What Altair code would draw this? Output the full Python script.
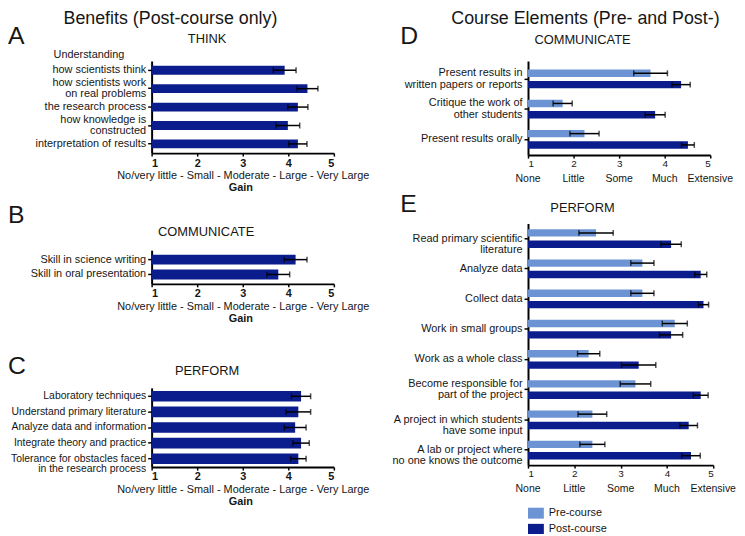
import altair as alt
import pandas as pd

FONT = "Liberation Sans"
TXT = "#161616"
DARK = "#0b1d8c"
LIGHT = "#6c94d4"

# ---------------- data ----------------
think_items = ["how scientists think", "how scientists work|on real problems",
               "the research process", "how knowledge is|constructed",
               "interpretation of results"]
think_vals = [3.92, 4.42, 4.21, 3.99, 4.21]
think_err = [0.25, 0.23, 0.22, 0.26, 0.20]

comm_items = ["Skill in science writing", "Skill in oral presentation"]
comm_vals = [4.16, 3.78]
comm_err = [0.25, 0.25]

perf_items = ["Laboratory techniques", "Understand primary literature",
              "Analyze data and information", "Integrate theory and practice",
              "Tolerance for obstacles faced|in the research process"]
perf_vals = [4.28, 4.22, 4.15, 4.28, 4.22]
perf_err = [0.21, 0.27, 0.24, 0.18, 0.17]

d_items = ["Present results in|written papers or reports",
           "Critique the work of|other students", "Present results orally"]
d_pre = [3.69, 1.76, 2.24]
d_pre_err = [0.37, 0.21, 0.32]
d_post = [4.36, 3.79, 4.51]
d_post_err = [0.20, 0.22, 0.14]

e_items = ["Read primary scientific|literature", "Analyze data", "Collect data",
           "Work in small groups", "Work as a whole class",
           "Become responsible for|part of the project",
           "A project in which students|have some input",
           "A lab or project where|no one knows the outcome"]
e_pre = [2.47, 3.47, 3.47, 4.17, 2.31, 3.32, 2.39, 2.39]
e_pre_err = [0.37, 0.25, 0.25, 0.27, 0.24, 0.33, 0.31, 0.27]
e_post = [4.09, 4.73, 4.79, 4.09, 3.39, 4.73, 4.47, 4.52]
e_post_err = [0.22, 0.13, 0.11, 0.25, 0.37, 0.16, 0.19, 0.20]

# two-line labels whose block is centred on the tick (others start at the tick)
centred_labels = ["how scientists work|on real problems", "how knowledge is|constructed",
                  "Present results in|written papers or reports",
                  "Critique the work of|other students",
                  "Become responsible for|part of the project"]

phases = ["Pre-course", "Post-course"]
ticks = [1, 2, 3, 4, 5]
gain_title = "No/very little - Small - Moderate - Large - Very Large"
scale_words = ["None", "Little", "Some", "Much", "Extensive"]

# ---------------- helpers ----------------
XSCALE = alt.Scale(domain=[1, 5], zero=False, nice=False)
PATH = "M-1,-0.69H1V0.69H-1Z"
CENTRED_TEST = "indexof([" + ",".join("'" + s + "'" for s in centred_labels) + "], datum.label) >= 0"


def x_axis(left):
    if left:
        return alt.Axis(values=ticks, format="d", title=gain_title,
                        titleFontWeight="normal", titleFontSize=11, titlePadding=2,
                        labelFontWeight="bold", labelFontSize=11, labelPadding=1,
                        tickSize=3, tickWidth=1.5, domainWidth=2, grid=False)
    return alt.Axis(values=ticks, format="d", title=None, labelFontSize=10,
                    labelPadding=0, tickSize=3, tickWidth=1.5, domainWidth=2,
                    grid=False)


def y_enc(order, pi, po, lh, align=0.5, fs=11):
    return alt.Y("item:N", sort=order, title=None,
                 scale=alt.Scale(paddingInner=pi, paddingOuter=po, align=align),
                 axis=alt.Axis(labelExpr="split(datum.label, '|')", labelFontSize=fs,
                               labelLineHeight=lh,
                               labelOffset={"condition": {"test": CENTRED_TEST,
                                                          "value": -lh / 2},
                                            "value": 0},
                               tickSize=4, tickWidth=1.5,
                               labelPadding=2, domainWidth=2, labelLimit=400,
                               grid=False))


def note(s, x, y, size, weight="normal", align="center"):
    return alt.Chart(pd.DataFrame({"t": [s]})).mark_text(
        font=FONT, fontSize=size, fontWeight=weight, align=align,
        baseline="middle", color=TXT
    ).encode(text="t:N", x=alt.value(x), y=alt.value(y))


def post_only(order, vals, errs, W, H, pi, po, lh, notes, fs=11):
    df = pd.DataFrame({"item": order, "value": vals, "err": errs})
    df["lo"] = df["value"] - df["err"]
    df["hi"] = df["value"] + df["err"]
    y = y_enc(order, pi, po, lh, fs=fs)
    xa = x_axis(True)
    base = alt.Chart(df)
    bars = base.mark_bar(color=DARK).encode(
        y=y, x=alt.X("value:Q", scale=XSCALE, axis=xa), x2=alt.datum(1))
    rule = base.mark_rule(color="black", strokeWidth=1.5).encode(
        y=y, x=alt.X("lo:Q", scale=XSCALE, axis=xa), x2="hi:Q")
    cap_lo = base.mark_tick(color="black", thickness=1.5, size=6).encode(
        y=y, x=alt.X("lo:Q", scale=XSCALE, axis=xa))
    cap_hi = base.mark_tick(color="black", thickness=1.5, size=6).encode(
        y=y, x=alt.X("hi:Q", scale=XSCALE, axis=xa))
    gain = note("Gain", W / 2 - 2, H + 35, 11, "bold")
    return alt.layer(bars, rule, cap_lo, cap_hi, gain, *notes).properties(
        width=W, height=H)


def pre_post(order, pre, pre_err, post, post_err, W, H, po, align, lh, notes, legend):
    rows = []
    for i, g in enumerate(order):
        rows.append({"item": g, "phase": phases[0], "value": pre[i], "err": pre_err[i]})
        rows.append({"item": g, "phase": phases[1], "value": post[i], "err": post_err[i]})
    df = pd.DataFrame(rows)
    df["lo"] = df["value"] - df["err"]
    df["hi"] = df["value"] + df["err"]
    y = y_enc(order, 0.38, po, lh, align)
    yo = alt.YOffset("phase:N", sort=phases,
                     scale=alt.Scale(paddingInner=0.35, paddingOuter=0))
    xa = x_axis(False)
    if legend:
        leg = alt.Legend(orient="none", legendX=0, legendY=H + 40.5, title=None,
                         symbolType=PATH, symbolSize=256, symbolStrokeWidth=0,
                         labelFontSize=11, labelFont=FONT, labelColor=TXT,
                         rowPadding=2.3, labelOffset=5, padding=0)
    else:
        leg = None
    base = alt.Chart(df)
    bars = base.mark_bar().encode(
        y=y, yOffset=yo, x=alt.X("value:Q", scale=XSCALE, axis=xa), x2=alt.datum(1),
        color=alt.Color("phase:N", sort=phases,
                        scale=alt.Scale(domain=phases, range=[LIGHT, DARK]),
                        legend=leg))
    rule = base.mark_rule(color="black", strokeWidth=1.5).encode(
        y=y, yOffset=yo, x=alt.X("lo:Q", scale=XSCALE, axis=xa), x2="hi:Q")
    cap_lo = base.mark_tick(color="black", thickness=1.5, size=6).encode(
        y=y, yOffset=yo, x=alt.X("lo:Q", scale=XSCALE, axis=xa))
    cap_hi = base.mark_tick(color="black", thickness=1.5, size=6).encode(
        y=y, yOffset=yo, x=alt.X("hi:Q", scale=XSCALE, axis=xa))
    words = alt.Chart(pd.DataFrame({"v": ticks, "w": scale_words})).mark_text(
        font=FONT, fontSize=10.6, color=TXT, baseline="middle"
    ).encode(x=alt.X("v:Q", scale=XSCALE, axis=xa), y=alt.value(H + 24), text="w:N")
    return alt.layer(bars, rule, cap_lo, cap_hi, words, *notes).properties(
        width=W, height=H)


# ---------------- panels ----------------
panel_a = post_only(think_items, think_vals, think_err, 184, 93, 0.52, 0.26, 10.5, [
    note("Benefits (Post-course only)", 19, -42, 18),
    note("A", -145, -25, 25, align="left"),
    note("THINK", 56, -22, 13),
    note("Understanding", -99, -6, 11, align="left"),
])
panel_b = post_only(comm_items, comm_vals, comm_err, 184, 34, 0.33, 0.3, 10.5, [
    note("B", -145, -35, 25, align="left"),
    note("COMMUNICATE", 55, -18, 13),
])
panel_c = post_only(perf_items, perf_vals, perf_err, 184, 80, 0.32, 0.2, 10.5, [
    note("C", -145, -22, 25, align="left"),
    note("PERFORM", 56, -17, 13),
], fs=10.5)
panel_d = pre_post(d_items, d_pre, d_pre_err, d_post, d_post_err, 184, 95, 0.25, 0.57,
                   11.5, [
    note("Course Elements (Pre- and Post-)", 58, -42, 18),
    note("D", -129, -25.5, 25, align="left"),
    note("COMMUNICATE", 55, -21, 13),
], legend=False)
panel_e = pre_post(e_items, e_pre, e_pre_err, e_post, e_post_err, 187, 244, 0.19, 0.5,
                   11.5, [
    note("E", -129, -20, 25, align="left"),
    note("PERFORM", 55, -16, 13),
], legend=True)

left = alt.vconcat(
    panel_a,
    alt.vconcat(panel_b, panel_c, spacing=105, bounds="flush"),
    spacing=98, bounds="flush")
right = alt.vconcat(panel_d, panel_e, spacing=69, bounds="flush").resolve_scale(
    color="independent", yOffset="independent")

chart = alt.hconcat(left, right, spacing=22).properties(
    padding={"left": 145, "top": 51, "right": 591, "bottom": 475},
    autosize=alt.AutoSizeParams(type="none"),
    background="white"
).configure_view(stroke=None).configure_axis(
    domainColor="black", tickColor="black", labelColor=TXT, titleColor=TXT,
    labelFont=FONT, titleFont=FONT
)

chart.save("out.html", embed_options={"renderer": "svg", "actions": False})
